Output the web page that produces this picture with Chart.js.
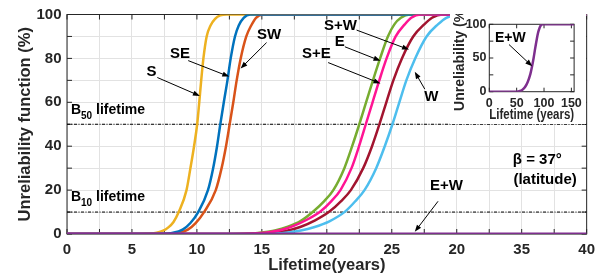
<!DOCTYPE html>
<html>
<head>
<meta charset="utf-8">
<script src="https://cdn.jsdelivr.net/npm/chart.js@4.4.1/dist/chart.umd.min.js"></script>
<style>
html, body { margin: 0; padding: 0; background: #fff; }
#wrap { position: relative; width: 602px; height: 276px; }
#insetChart { position: absolute; left: 450px; top: 14px; background: #fff; }
</style>
</head>
<body>
<div id="wrap">
  <canvas id="mainChart" width="602" height="276"></canvas>
  <canvas id="insetChart" width="136" height="110"></canvas>
</div>
<script>
// values: [lifetime (years), unreliability (%)]
const curveS   = [[0,0],[5.5,0],[6.4,0.2],[6.9,0.6],[7.4,1.5],[7.8,3],[8.2,5.5],[8.6,10],[9.2,20],[9.5,30],[9.78,40],[10.02,50],[10.18,60],[10.33,70],[10.5,80],[10.75,90],[11.05,95],[11.4,98],[11.8,99.6],[12.3,100],[40,100]];
const curveSE  = [[0,0],[6.5,0],[7.3,0.1],[8.1,0.5],[8.9,2],[9.5,5],[10.1,10],[10.85,20],[11.25,30],[11.55,40],[11.8,50],[12.07,60],[12.35,70],[12.6,80],[12.93,90],[13.22,95],[13.6,98.5],[14.1,100],[40,100]];
const curveSW  = [[0,0],[7,0],[8,0.1],[8.7,0.6],[9.3,2],[9.9,5],[10.55,10],[11.45,20],[11.9,30],[12.24,40],[12.52,50],[12.8,60],[13.06,70],[13.37,80],[13.8,90],[14.18,95],[14.55,98.5],[15.1,100],[40,100]];
const curveSE2 = [[0,0],[12.5,0],[14,0.2],[15,0.7],[16,1.6],[17,3.3],[18,6],[19,10.5],[19.8,15],[20.5,20],[21.35,30],[21.95,40],[22.5,50],[23.02,60],[23.55,70],[24.1,80],[24.7,90],[25.2,95.5],[25.7,98.5],[26.4,100],[40,100]];
const curveE   = [[0,0],[13,0],[14.4,0.2],[15.4,0.7],[16.4,1.7],[17.4,3.6],[18.5,6.6],[19.55,10.5],[20.35,15],[21.05,20],[21.9,30],[22.48,40],[23,50],[23.52,60],[24.04,70],[24.6,80],[25.3,90],[26,95.5],[26.5,98.5],[27.2,100],[40,100]];
const curveSW2 = [[0,0],[13.5,0],[15,0.2],[16,0.7],[17,1.6],[18,3.3],[19.1,6.2],[20.2,10.2],[21.1,15],[21.85,20],[22.8,30],[23.48,40],[24.05,50],[24.58,60],[25.12,70],[25.78,80],[26.65,90],[27.5,95.5],[28.1,98.5],[28.9,100],[40,100]];
const curveW   = [[0,0],[14.5,0],[16,0.2],[17,0.7],[18,1.6],[19,3.1],[20.2,5.8],[21.4,10.2],[22.2,15],[22.9,20],[23.8,30],[24.46,40],[25.05,50],[25.58,60],[26.12,70],[26.8,80],[27.68,90],[28.55,95.5],[29.2,98.5],[30.2,100],[40,100]];
const curveEW  = [[0,0],[40,0]];
const lineB50  = [[0,50],[40,50]];
const lineB10  = [[0,10],[40,10]];

// inset: E+W over a longer lifetime
const insetEW  = [[0,0],[50,0],[55,0.8],[60,2.5],[65,6.5],[70,14],[75,26],[78,37],[81,50],[84,65],[87,79],[89,87],[92,95],[95,99],[98,100],[155,100]];

const xTickLabels = ["0", "5", "10", "15", "20", "25", "20", "35", "40"];
const yTickLabels = ["0", "20", "40", "60", "80", "100"];
const insetXTicks = ["0", "50", "100", "150"];
const insetYTicks = ["0", "50", "100"];

const FONT = '"Liberation Sans", Arial, Helvetica, sans-serif';
Chart.defaults.font.family = FONT;
Chart.defaults.font.weight = 'bold';
Chart.defaults.color = '#262626';

// box with inward ticks on every side
const framePlugin = {
  id: 'frame',
  beforeDatasetsDraw(chart, args, opts) {
    const ctx = chart.ctx, a = chart.chartArea;
    const sx = chart.scales.x, sy = chart.scales.y;
    const len = opts.len || 5;
    ctx.save();
    ctx.strokeStyle = '#262626';
    ctx.lineWidth = 1;
    ctx.strokeRect(a.left, a.top, a.right - a.left, a.bottom - a.top);
    ctx.beginPath();
    sx.ticks.forEach(function(t) {
      const px = sx.getPixelForValue(t.value);
      ctx.moveTo(px, a.bottom); ctx.lineTo(px, a.bottom - len);
      ctx.moveTo(px, a.top); ctx.lineTo(px, a.top + len);
    });
    sy.ticks.forEach(function(t) {
      const py = sy.getPixelForValue(t.value);
      ctx.moveTo(a.left, py); ctx.lineTo(a.left + len, py);
      ctx.moveTo(a.right, py); ctx.lineTo(a.right - len, py);
    });
    ctx.stroke();
    ctx.restore();
  }
};

function drawArrow(ctx, x1, y1, x2, y2) {
  const ang = Math.atan2(y2 - y1, x2 - x1);
  const hl = 7, hw = 2.6;
  ctx.beginPath();
  ctx.moveTo(x1, y1);
  ctx.lineTo(x2 - Math.cos(ang) * hl * 0.8, y2 - Math.sin(ang) * hl * 0.8);
  ctx.stroke();
  ctx.beginPath();
  ctx.moveTo(x2, y2);
  ctx.lineTo(x2 - Math.cos(ang) * hl - Math.sin(ang) * hw, y2 - Math.sin(ang) * hl + Math.cos(ang) * hw);
  ctx.lineTo(x2 - Math.cos(ang) * hl + Math.sin(ang) * hw, y2 - Math.sin(ang) * hl - Math.cos(ang) * hw);
  ctx.closePath();
  ctx.fill();
}

// labels and arrows, placed in data units
const notesPlugin = {
  id: 'notes',
  afterDatasetsDraw(chart, args, opts) {
    const ctx = chart.ctx;
    const sx = chart.scales.x, sy = chart.scales.y;
    const size = opts.size || 15;
    ctx.save();
    ctx.fillStyle = '#000';
    ctx.strokeStyle = '#000';
    ctx.lineWidth = 1;
    (opts.items || []).forEach(function(n) {
      if (n.from) {
        drawArrow(ctx, sx.getPixelForValue(n.from[0]), sy.getPixelForValue(n.from[1]),
                       sx.getPixelForValue(n.to[0]), sy.getPixelForValue(n.to[1]));
      }
      const px = sx.getPixelForValue(n.at[0]), py = sy.getPixelForValue(n.at[1]);
      if (n.sub) {
        ctx.textAlign = 'left';
        ctx.textBaseline = 'alphabetic';
        ctx.font = 'bold 14px ' + FONT;
        ctx.fillText(n.text, px, py);
        let x = px + ctx.measureText(n.text).width;
        ctx.font = 'bold 10px ' + FONT;
        ctx.fillText(n.sub, x, py + 5);
        x += ctx.measureText(n.sub).width;
        ctx.font = 'bold 14px ' + FONT;
        ctx.fillText(n.rest, x, py);
      } else {
        ctx.textAlign = 'center';
        ctx.textBaseline = 'middle';
        ctx.font = 'bold ' + size + 'px ' + FONT;
        ctx.fillText(n.text, px, py);
      }
    });
    ctx.restore();
  }
};

const mainNotes = [
  { text: 'S',   at: [6.5, 73.9],  from: [6.95, 71.3],  to: [10.23, 62.9] },
  { text: 'SE',  at: [8.69, 82.2], from: [9.33, 79.0],  to: [12.49, 71.7] },
  { text: 'SW',  at: [15.56, 90.6], from: [15.36, 87.2], to: [13.36, 75.4] },
  { text: 'S+W', at: [21.05, 94.8], from: [22.29, 92.9], to: [26.33, 84.0] },
  { text: 'E',   at: [21.0, 87.5], from: [21.39, 85.3], to: [24.13, 78.9] },
  { text: 'S+E', at: [19.2, 82.2], from: [20.1, 78.1],  to: [24.13, 68.6] },
  { text: 'W',   at: [28.05, 62.3], from: [27.54, 66.0], to: [26.77, 73.9] },
  { text: 'E+W', at: [29.2, 22.1], from: [28.56, 14.9], to: [26.77, 1.0] },
  { text: '\u03b2 = 37\u00b0', at: [36.2, 33.9] },
  { text: '(latitude)', at: [36.8, 24.8] },
  { text: 'B', sub: '50', rest: ' lifetime', at: [0.3, 54.6] },
  { text: 'B', sub: '10', rest: ' lifetime', at: [0.3, 15.0] }
];

const insetNotes = [
  { text: 'E+W', at: [38.4, 79], from: [36, 70], to: [78.4, 37.7] }
];

function curve(data, color, order, width) {
  return {
    data: data,
    borderColor: color,
    borderWidth: width || 2.5,
    pointRadius: 0,
    cubicInterpolationMode: 'monotone',
    fill: false,
    order: order
  };
}

function refLine(data) {
  return {
    data: data,
    borderColor: '#000',
    borderWidth: 1,
    borderDash: [3, 1.5, 1, 1.5],
    pointRadius: 0,
    fill: false,
    order: 20
  };
}

new Chart(document.getElementById('mainChart'), {
  type: 'line',
  data: {
    datasets: [
      refLine(lineB50),
      refLine(lineB10),
      curve(curveS, '#EDB120', 9),
      curve(curveSW, '#D95319', 8),
      curve(curveSE2, '#77AC30', 7),
      curve(curveSW2, '#A2142F', 6),
      curve(curveW, '#4DBEEE', 5),
      curve(curveSE, '#0072BD', 4),
      curve(curveE, '#FF1493', 2),
      curve(curveEW, '#7E2F8E', 0, 3)
    ]
  },
  options: {
    responsive: false,
    animation: false,
    layout: { padding: { top: 11, right: 15, left: 0, bottom: 0 } },
    plugins: {
      legend: { display: false },
      tooltip: { enabled: false },
      frame: { len: 5 },
      notes: { items: mainNotes, size: 15 }
    },
    scales: {
      x: {
        type: 'linear',
        min: 0,
        max: 40,
        grid: { color: '#e2e2e2', drawTicks: false },
        border: { display: false },
        ticks: {
          stepSize: 2.5,
          autoSkip: false,
          maxRotation: 0,
          padding: 7,
          font: { size: 15, weight: 'bold' },
          callback: function(v) { return v % 5 === 0 ? xTickLabels[v / 5] : ''; }
        },
        title: {
          display: true,
          text: 'Lifetime(years)',
          font: { size: 16.5, weight: 'bold', lineHeight: 1.2 },
          padding: { top: 0, bottom: 1 }
        },
        afterFit: function(s) { s.height = 42; }
      },
      y: {
        min: 0,
        max: 100,
        grid: { color: '#e2e2e2', drawTicks: false },
        border: { display: false },
        ticks: {
          stepSize: 10,
          autoSkip: false,
          padding: 5.5,
          font: { size: 15, weight: 'bold' },
          callback: function(v) { return v % 20 === 0 ? yTickLabels[v / 20] : ''; }
        },
        title: {
          display: true,
          text: 'Unreliability function (%)',
          font: { size: 16.5, weight: 'bold', lineHeight: 1.2 },
          padding: { top: 15.6, bottom: 0 }
        },
        afterFit: function(s) { s.width = 67; }
      }
    }
  },
  plugins: [framePlugin, notesPlugin]
});

new Chart(document.getElementById('insetChart'), {
  type: 'line',
  data: {
    datasets: [ curve(insetEW, '#7E2F8E', 0, 2.5) ]
  },
  options: {
    responsive: false,
    animation: false,
    layout: { padding: { top: 5, right: 6, left: 0, bottom: 0 } },
    plugins: {
      legend: { display: false },
      tooltip: { enabled: false },
      frame: { len: 4 },
      notes: { items: insetNotes, size: 14 }
    },
    scales: {
      x: {
        type: 'linear',
        min: 0,
        max: 155,
        grid: { display: false, drawTicks: false },
        border: { display: false },
        ticks: {
          stepSize: 50,
          includeBounds: false,
          autoSkip: false,
          maxRotation: 0,
          padding: 4,
          font: { size: 12.5, weight: 'bold' },
          callback: function(v) { return v % 50 === 0 ? insetXTicks[v / 50] : ''; }
        },
        title: {
          display: true,
          text: 'Lifetime (years)',
          font: { size: 14, weight: 'bold', lineHeight: 1.2 },
          padding: { top: 0, bottom: 0.6 }
        },
        afterFit: function(s) { s.height = 32.3; }
      },
      y: {
        min: 0,
        max: 100,
        grid: { display: false, drawTicks: false },
        border: { display: false },
        ticks: {
          stepSize: 25,
          autoSkip: false,
          padding: 2.8,
          font: { size: 12.5, weight: 'bold' },
          callback: function(v) { return v % 50 === 0 ? insetYTicks[v / 50] : ''; }
        },
        title: {
          display: true,
          text: 'Unreliability (%)',
          font: { size: 14, weight: 'bold', lineHeight: 1.2 },
          padding: { top: 1.6, bottom: 0 }
        },
        afterFit: function(s) { s.width = 39.3; }
      }
    }
  },
  plugins: [framePlugin, notesPlugin]
});
</script>
</body>
</html>
